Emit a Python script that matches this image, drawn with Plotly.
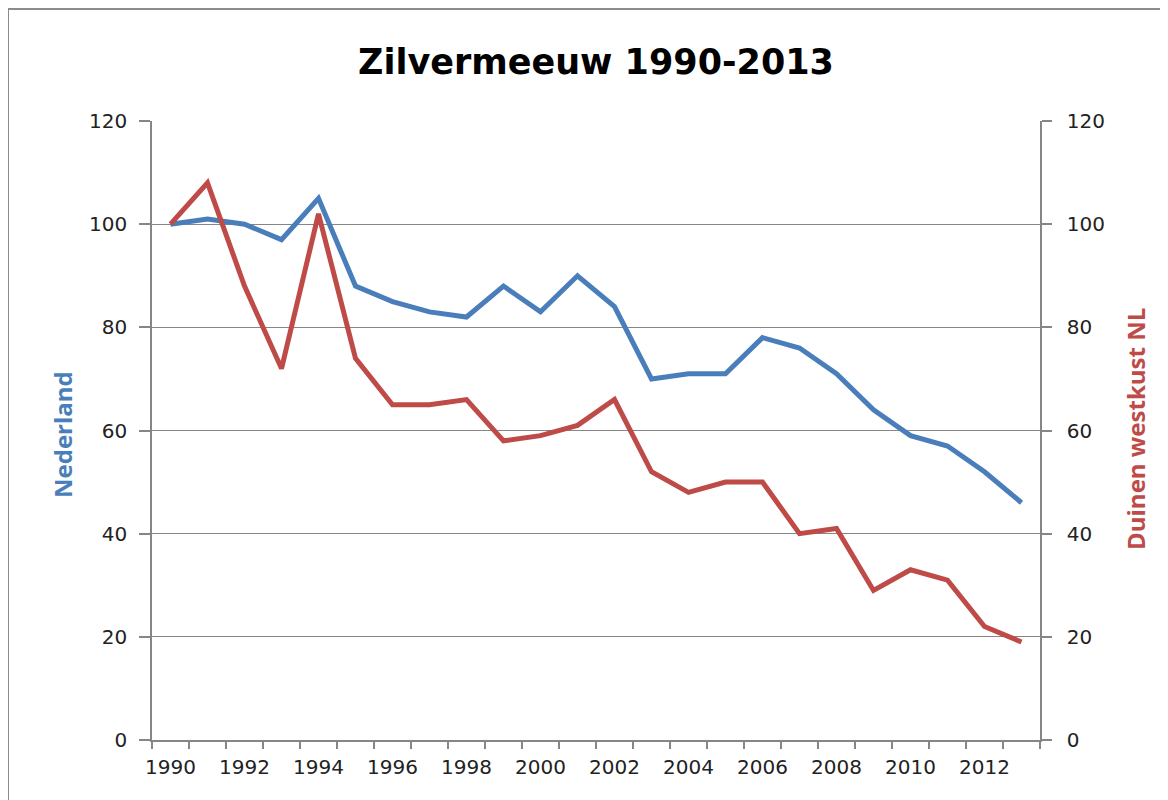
import plotly.graph_objects as go

years = list(range(1990, 2014))
nederland = [100, 101, 100, 97, 105, 88, 85, 83, 82, 88, 83, 90, 84, 70, 71, 71, 78, 76, 71, 64, 59, 57, 52, 46]
duinen = [100, 108, 88, 72, 102, 74, 65, 65, 66, 58, 59, 61, 66, 52, 48, 50, 50, 40, 41, 29, 33, 31, 22, 19]
label_years = [y for y in years if y % 2 == 0]
yticks = [0, 20, 40, 60, 80, 100, 120]

title_text = "Zilvermeeuw 1990-2013"
left_title = "Nederland"
right_title = "Duinen westkust NL"

BLUE = "#4A7EBB"
RED = "#BE4B48"
GRID = "#868686"
TICKFONT = dict(family="DejaVu Sans", size=20, color="#222222")

# figure sits 8px in from the page corner (body margin)
W, H = 1160, 792
L, R, T, B = 144, 128, 113, 60
PW, PH = W - L - R, H - T - B

fig = go.Figure()
fig.add_trace(go.Scatter(x=years, y=nederland, mode="lines", name=left_title,
                         line=dict(color=BLUE, width=5), yaxis="y"))
fig.add_trace(go.Scatter(x=years, y=duinen, mode="lines", name=right_title,
                         line=dict(color=RED, width=5), yaxis="y2"))

fig.update_layout(
    width=W, height=H,
    margin=dict(l=L, r=R, t=T, b=B),
    paper_bgcolor="white", plot_bgcolor="white",
    showlegend=False,
    title=dict(text=title_text, x=(L + PW / 2) / W, xanchor="center", y=1 - 54 / H, yanchor="middle",
               font=dict(family="DejaVu Sans", size=35, color="black", weight="bold")),
    xaxis=dict(
        range=[1989.5, 2013.5], tickmode="array", tickvals=label_years,
        ticktext=[str(y) for y in label_years], ticks="", showgrid=False,
        showline=True, linecolor=GRID, linewidth=1.5, zeroline=False,
        tickfont=TICKFONT, ticklabelstandoff=8,
        minor=dict(ticks="outside", tick0=1989.5, dtick=1, ticklen=7,
                   tickcolor=GRID, tickwidth=1.5, showgrid=False),
    ),
    yaxis=dict(
        range=[0, 120], tickmode="array", tickvals=yticks, ticks="outside",
        ticklen=11, tickcolor=GRID, tickwidth=1.5, showline=True, linecolor=GRID,
        linewidth=1.5, showgrid=True, gridcolor=GRID, gridwidth=1.2, zeroline=False,
        tickfont=TICKFONT, ticklabelstandoff=8,
    ),
    yaxis2=dict(
        range=[0, 120], tickmode="array", tickvals=yticks, ticks="outside",
        ticklen=10, tickcolor=GRID, tickwidth=1.5, showline=True, linecolor=GRID,
        linewidth=1.5, showgrid=False, zeroline=False, overlaying="y", side="right",
        tickfont=TICKFONT, ticklabelstandoff=11,
    ),
    annotations=[
        dict(text=left_title, xref="paper", yref="paper", x=(54 - L) / PW, y=(H - B - 427) / PH,
             showarrow=False, textangle=-90, xanchor="center", yanchor="middle",
             font=dict(family="Open Sans", size=24, color=BLUE, weight="bold")),
        dict(text=right_title, xref="paper", yref="paper", x=(1127 - L) / PW, y=(H - B - 421) / PH,
             showarrow=False, textangle=-90, xanchor="center", yanchor="middle",
             font=dict(family="Open Sans", size=24, color=RED, weight="bold")),
    ],
    shapes=[
        dict(type="rect", xref="paper", yref="paper",
             x0=(0 - L) / PW, x1=(W + 40 - L) / PW,
             y0=(H - B - (H + 40)) / PH, y1=(H - B - 1) / PH,
             line=dict(color="#8C8C8C", width=2), fillcolor="rgba(0,0,0,0)", layer="below"),
    ],
)

fig.write_html("out.html")
